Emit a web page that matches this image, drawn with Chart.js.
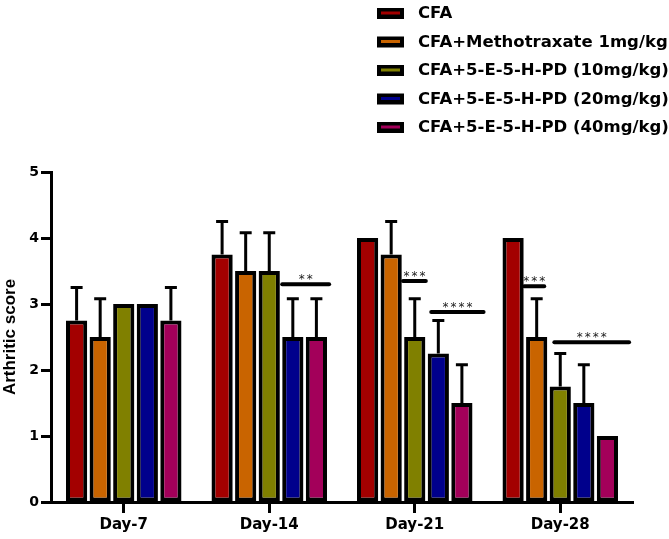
<!DOCTYPE html>
<html>
<head>
<meta charset="utf-8">
<script src="https://cdn.jsdelivr.net/npm/chart.js@4.4.0/dist/chart.umd.min.js"></script>
<style>
  html, body { margin: 0; padding: 0; background: #fff; }
  #wrap { width: 669px; height: 539px; position: relative; }
</style>
</head>
<body>
<div id="wrap"><canvas id="myChart"></canvas></div>
<script>
// categories and series
var categories = ['Day-7', 'Day-14', 'Day-21', 'Day-28'];
var seriesNames = ['CFA', 'CFA+Methotraxate 1mg/kg', 'CFA+5-E-5-H-PD (10mg/kg)', 'CFA+5-E-5-H-PD (20mg/kg)', 'CFA+5-E-5-H-PD (40mg/kg)'];
var seriesColors = ['#a30000', '#c96400', '#808000', '#00008c', '#a3005a'];

var cfa   = [2.75, 3.75, 4.0, 4.0];
var metho = [2.5, 3.5, 3.75, 2.5];
var pd10  = [3.0, 3.5, 2.5, 1.75];
var pd20  = [3.0, 2.5, 2.25, 1.5];
var pd40  = [2.75, 2.5, 1.5, 1.0];

// upper error (SEM)
var cfaErr   = [0.5, 0.5, 0, 0];
var methoErr = [0.58, 0.58, 0.5, 0.58];
var pd10Err  = [0, 0.58, 0.58, 0.5];
var pd20Err  = [0, 0.58, 0.5, 0.58];
var pd40Err  = [0.5, 0.58, 0.58, 0];

var yTicks = [0, 1, 2, 3, 4, 5];

// significance marks: category index, first / last bar slot covered, height in score units
var sigLabels   = ['**', '***', '****', '***', '****'];
var sigCategory = [1, 2, 2, 3, 3];
var sigFromBar  = [3.05, 2.0, 3.2, 0.97, 2.25];
var sigToBar    = [5.04, 2.97, 5.42, 1.82, 5.42];
var sigValue    = [3.3, 3.35, 2.88, 3.27, 2.42];

var allValues = [cfa, metho, pd10, pd20, pd40];
var allErrors = [cfaErr, methoErr, pd10Err, pd20Err, pd40Err];

var errorBars = {
  id: 'errorBars',
  afterDatasetsDraw: function(chart) {
    var ctx = chart.ctx, y = chart.scales.y;
    ctx.save();
    ctx.strokeStyle = '#000';
    ctx.lineWidth = 3;
    chart.data.datasets.forEach(function(ds, i) {
      chart.getDatasetMeta(i).data.forEach(function(bar, j) {
        var err = allErrors[i][j];
        if (!err) return;
        var top = y.getPixelForValue(allValues[i][j] + err);
        ctx.beginPath();
        ctx.moveTo(bar.x, bar.y);
        ctx.lineTo(bar.x, top);
        ctx.moveTo(bar.x - 6, top);
        ctx.lineTo(bar.x + 6, top);
        ctx.stroke();
      });
    });
    ctx.restore();
  }
};

var sigMarks = {
  id: 'sigMarks',
  afterDatasetsDraw: function(chart) {
    var ctx = chart.ctx, y = chart.scales.y;
    ctx.save();
    ctx.strokeStyle = '#000';
    ctx.fillStyle = '#1a1a1a';
    ctx.lineWidth = 4;
    ctx.lineCap = 'round';
    ctx.font = '12px "DejaVu Sans"';
    ctx.textAlign = 'center';
    ctx.textBaseline = 'alphabetic';
    ctx.letterSpacing = '2px';
    sigLabels.forEach(function(lab, k) {
      var c = sigCategory[k];
      var b0 = chart.getDatasetMeta(0).data[c];
      var b1 = chart.getDatasetMeta(1).data[c];
      var slot = b1.x - b0.x;
      var left = b0.x - slot / 2;
      var x1 = left + sigFromBar[k] * slot;
      var x2 = left + sigToBar[k] * slot;
      var py = y.getPixelForValue(sigValue[k]);
      ctx.beginPath();
      ctx.moveTo(x1, py);
      ctx.lineTo(x2, py);
      ctx.stroke();
      ctx.fillText(lab, (x1 + x2) / 2 + 1, py - 1);
    });
    ctx.restore();
  }
};

var boxLegend = {
  id: 'boxLegend',
  afterDraw: function(chart) {
    var ctx = chart.ctx;
    ctx.save();
    ctx.font = 'bold 16.5px "DejaVu Sans"';
    ctx.textBaseline = 'middle';
    chart.data.datasets.forEach(function(ds, i) {
      var cy = 13 + i * 28.5;
      ctx.fillStyle = '#000';
      ctx.fillRect(377, cy - 5, 27, 11);
      ctx.fillStyle = ds.backgroundColor;
      ctx.fillRect(381, cy - 1.5, 19, 3);
      ctx.fillStyle = '#000';
      ctx.fillText(ds.label, 418, cy + 1);
    });
    ctx.restore();
  }
};

var ctx = document.getElementById('myChart').getContext('2d');

var myChart = new Chart(ctx, {
  type: 'bar',
  data: {
    labels: categories,
    datasets: allValues.map(function(vals, i) {
      return {
        label: seriesNames[i],
        data: vals,
        backgroundColor: seriesColors[i],
        borderColor: '#000',
        borderWidth: 4,
        borderSkipped: false,
        categoryPercentage: 0.81,
        barPercentage: 0.9
      };
    })
  },
  options: {
    responsive: true,
    maintainAspectRatio: false,
    animation: false,
    layout: { padding: { top: 172, right: 36, left: 0, bottom: 0 } },
    plugins: {
      legend: { display: false },
      tooltip: { enabled: false }
    },
    scales: {
      x: {
        offset: true,
        grid: { offset: false, drawOnChartArea: false, drawTicks: true, tickLength: 11, tickWidth: 3, tickColor: '#000' },
        border: { display: true, width: 3, color: '#000' },
        ticks: { color: '#000', padding: 3, font: { family: 'DejaVu Sans', weight: 'bold', size: 15 } },
        afterFit: function(s) { s.height = 37; }
      },
      y: {
        min: 0,
        max: 5,
        afterBuildTicks: function(s) { s.ticks = yTicks.map(function(v) { return { value: v }; }); },
        grid: { drawOnChartArea: false, drawTicks: true, tickLength: 10, tickWidth: 3, tickColor: '#000' },
        border: { display: true, width: 3, color: '#000' },
        ticks: { color: '#000', padding: 2, font: { family: 'DejaVu Sans', weight: 'bold', size: 14 } },
        title: {
          display: true,
          text: 'Arthritic score',
          color: '#000',
          padding: 0,
          font: { family: 'Liberation Sans', weight: 'bold', size: 17 }
        },
        afterFit: function(s) { s.width = 51; }
      }
    }
  },
  plugins: [errorBars, sigMarks, boxLegend]
});
</script>
</body>
</html>
